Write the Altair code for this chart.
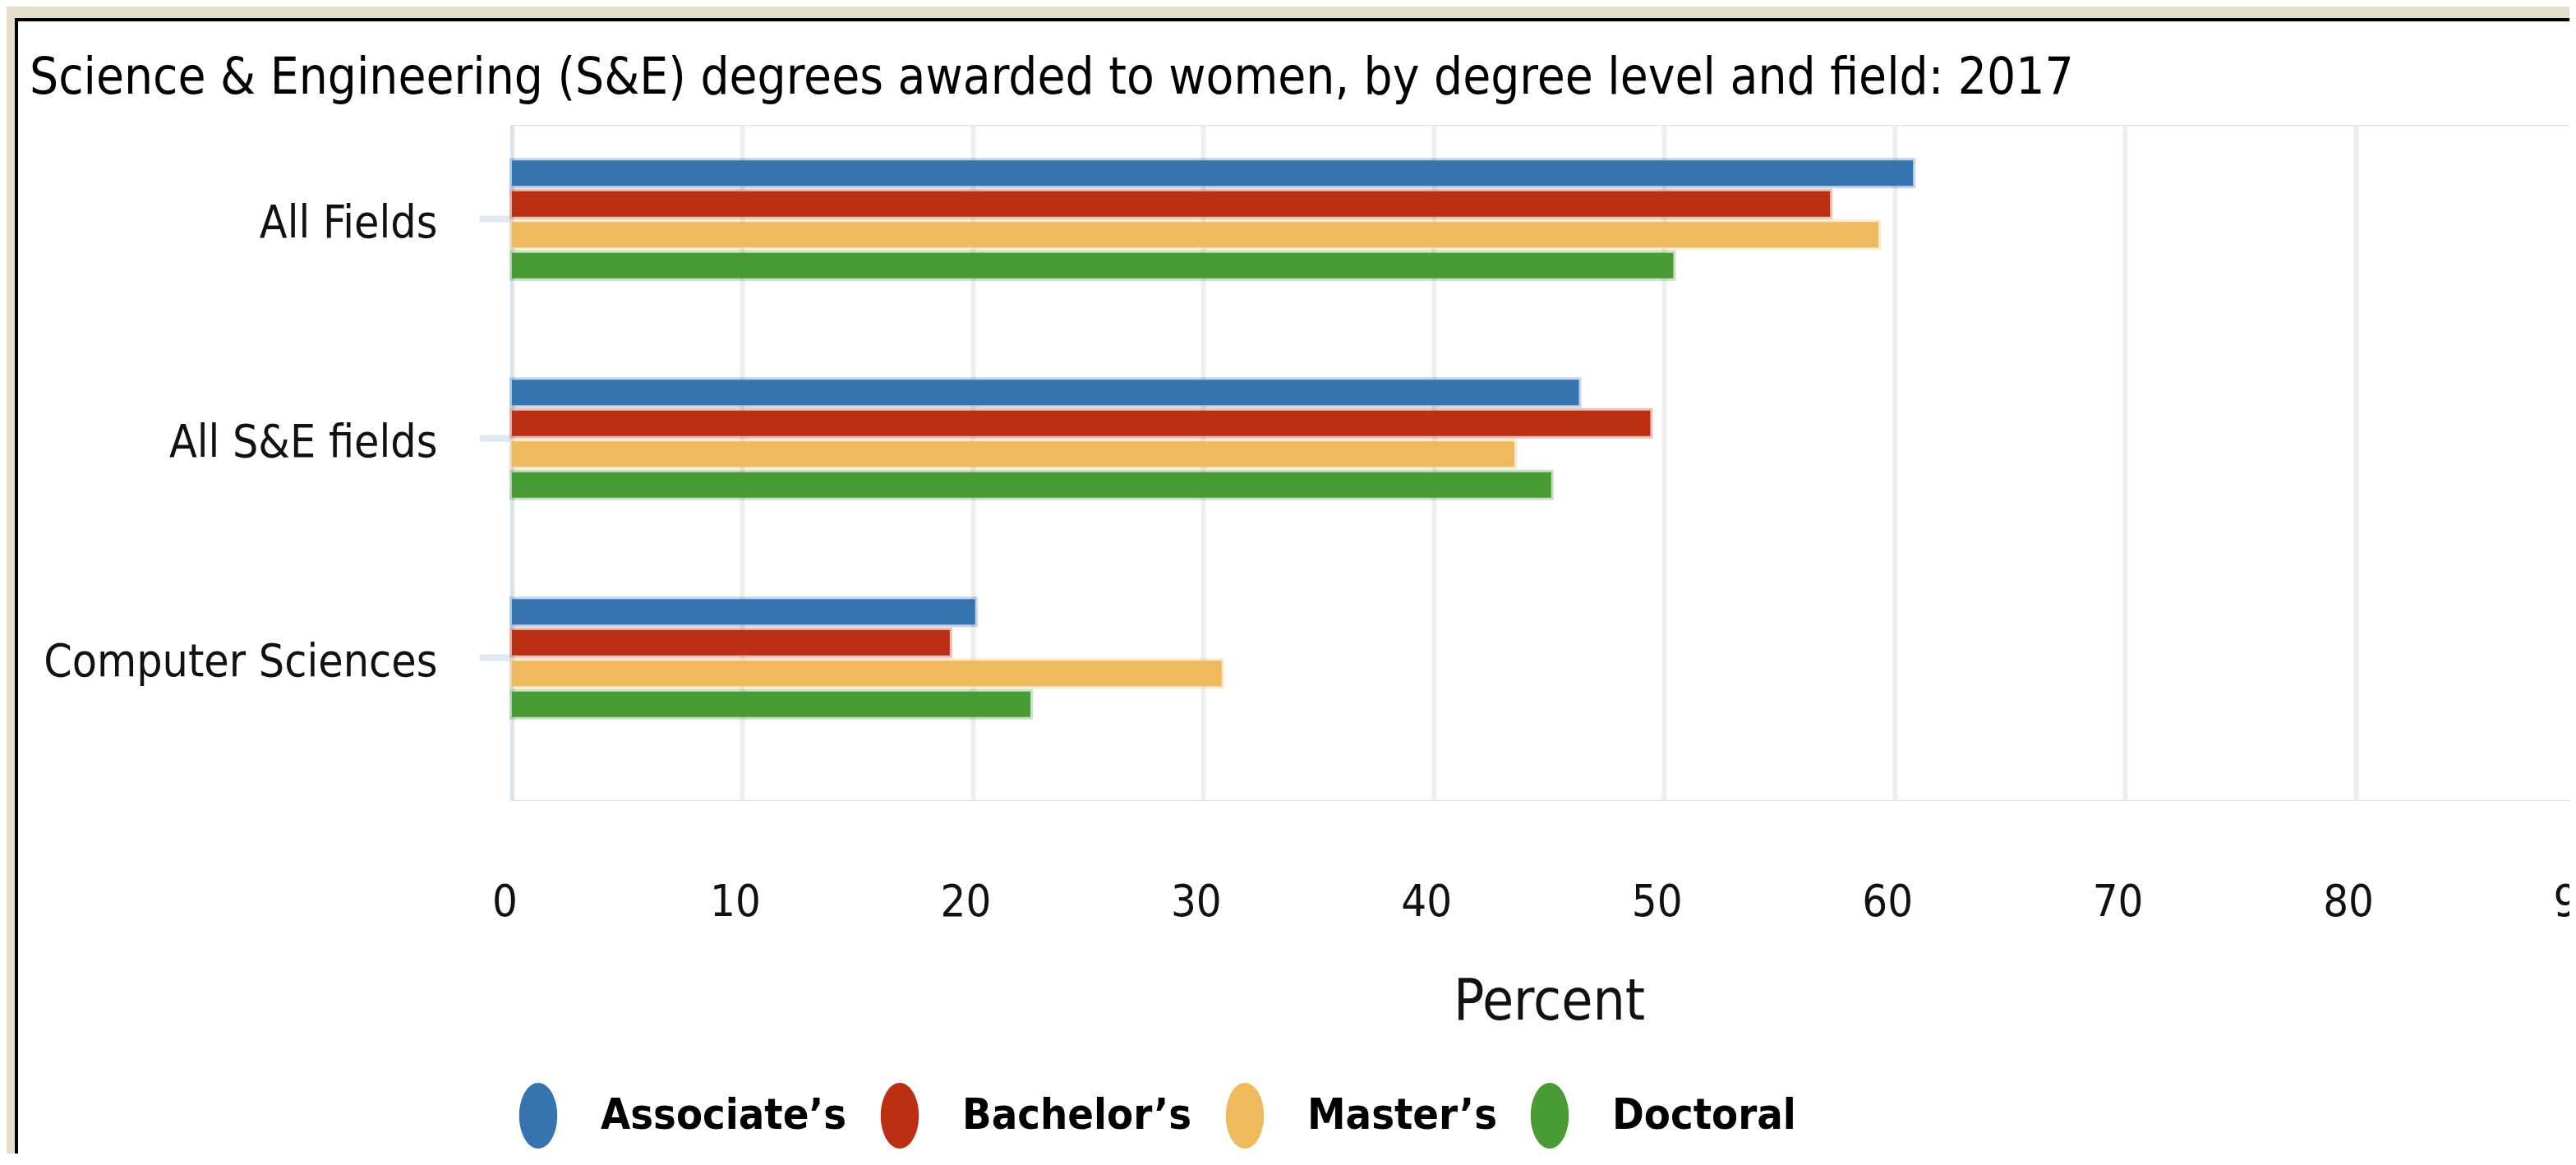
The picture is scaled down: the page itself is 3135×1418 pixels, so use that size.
import altair as alt
import pandas as pd

# ---- data ----
fields = ["All Fields", "All S&E fields", "Computer Sciences"]
degrees = ["Associate’s", "Bachelor’s", "Master’s", "Doctoral"]
associates = [60.8, 46.3, 20.1]
bachelors = [57.2, 49.4, 19.0]
masters = [59.3, 43.5, 30.8]
doctoral = [50.4, 45.1, 22.5]
colors = ["#3574B0", "#BD2F12", "#F0B95C", "#499B34"]
x_ticks = [0, 10, 20, 30, 40, 50, 60, 70, 80, 90]

series = [associates, bachelors, masters, doctoral]
rows = []
for deg, vals in zip(degrees, series):
    for f, v in zip(fields, vals):
        rows.append({"field": f, "degree": deg, "percent": v})
df = pd.DataFrame(rows)

FONT = "Liberation Sans Narrow, Arial Narrow, DejaVu Sans Condensed, Liberation Sans"
W, H = 2504, 822
BEIGE = "#E5DFCA"

color_scale = alt.Scale(domain=degrees, range=colors)
ellipse = "M0,-1A0.58,1,0,1,1,0,1A0.58,1,0,1,1,0,-1Z"

bars = alt.Chart(df).mark_bar(strokeWidth=6, strokeOpacity=0.3).encode(
    x=alt.X("percent:Q",
            scale=alt.Scale(domain=[0, 90], range=[0, 2524], nice=False),
            axis=alt.Axis(values=x_ticks, title="Percent", grid=True,
                          gridColor="#EEEEEE", gridWidth=6, domain=False, ticks=False,
                          labelFont=FONT, labelFontSize=54, labelColor="#111111",
                          labelPadding=97, labelFlush=False, labelOffset=-9,
                          titleFont=FONT, titleFontSize=69, titleFontWeight="normal",
                          titleColor="#111111", titlePadding=60)),
    y=alt.Y("field:N", sort=fields,
            scale=alt.Scale(paddingInner=0.4625, paddingOuter=0.2706, align=0.299),
            axis=alt.Axis(title=None, grid=False, domain=True, domainColor="#D8E1EE",
                          domainWidth=4, ticks=True, tickColor="#E1E8F2", tickSize=40,
                          tickWidth=8, labelFont=FONT, labelFontSize=55, labelLimit=0,
                          labelOffset=5, labelColor="#111111", labelPadding=51)),
    yOffset=alt.YOffset("degree:N", sort=degrees,
                        scale=alt.Scale(paddingInner=0.173, paddingOuter=0)),
    color=alt.Color("degree:N", sort=degrees, scale=color_scale,
                    legend=alt.Legend(title=None, orient="none", direction="horizontal",
                                      legendX=-8, legendY=1166, symbolType=ellipse,
                                      symbolSize=6400, symbolStrokeWidth=0,
                                      symbolOpacity=1, labelFont=FONT, labelLimit=0,
                                      labelFontSize=52, labelFontWeight="bold",
                                      labelColor="#000000", labelOffset=36,
                                      columnPadding=24, padding=0)),
    stroke=alt.Stroke("degree:N", sort=degrees, scale=color_scale, legend=None),
)

frame_data = alt.Data(values=[{"k": 1}])
top_beige = alt.Chart(frame_data).mark_rect(color=BEIGE).encode(
    x=alt.value(-615), x2=alt.value(W), y=alt.value(-144), y2=alt.value(-130))
left_beige = alt.Chart(frame_data).mark_rect(color=BEIGE).encode(
    x=alt.value(-615), x2=alt.value(-605), y=alt.value(-144), y2=alt.value(1252))
top_black = alt.Chart(frame_data).mark_rect(color="#000000").encode(
    x=alt.value(-605), x2=alt.value(W), y=alt.value(-130), y2=alt.value(-126))
left_black = alt.Chart(frame_data).mark_rect(color="#000000").encode(
    x=alt.value(-605), x2=alt.value(-601), y=alt.value(-130), y2=alt.value(1252))

chart = alt.layer(bars, top_beige, left_beige, top_black, left_black).properties(
    width=W, height=H,
    autosize=alt.AutoSizeParams(type="none"),
    padding={"left": 615, "top": 144, "right": 0, "bottom": 430},
    title=alt.TitleParams(
        "Science & Engineering (S&E) degrees awarded to women, by degree level and field: 2017",
        anchor="start", frame="group", dx=-587, dy=122, font=FONT, fontSize=61.5,
        fontWeight="normal", color="#000000"),
).configure_view(strokeWidth=0).configure(background="#FFFFFF")

chart.save("out.html", embed_options={"renderer": "svg", "actions": False})
